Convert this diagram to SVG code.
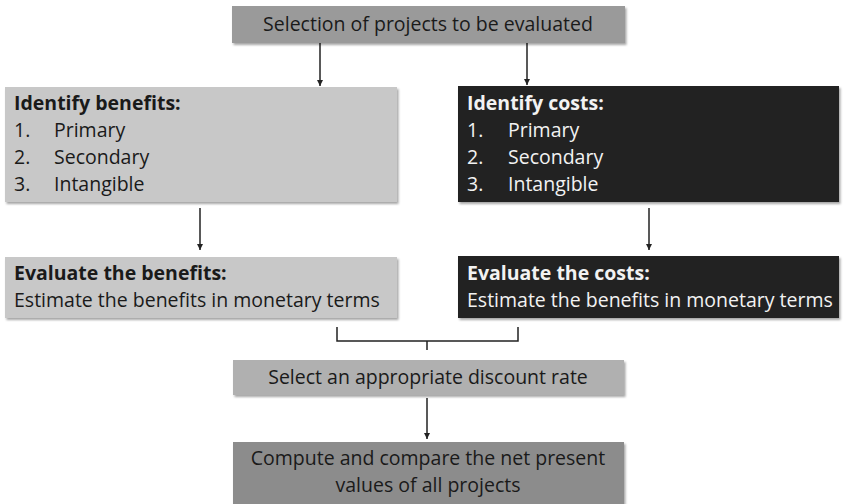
<svg xmlns="http://www.w3.org/2000/svg" width="846" height="504" viewBox="0 0 846 504">
<defs>
<filter id="sh" x="-5%" y="-10%" width="110%" height="130%">
<feDropShadow dx="1.5" dy="2" stdDeviation="1.2" flood-color="#000" flood-opacity="0.35"/>
</filter>
<marker id="arr" markerWidth="7" markerHeight="7" refX="6" refY="3.5" orient="auto" markerUnits="userSpaceOnUse">
<path d="M0,0.5 L6,3.5 L0,6.5 Z" fill="#222"/>
</marker>
</defs>
<style>
text{font-family:"Open Sans","Liberation Sans",Arial,sans-serif;font-size:19.5px;fill:#1a1a1a}
.w{fill:#f2f2f2}
.b{font-weight:bold}
.c{text-anchor:middle}
.ln{stroke:#222;stroke-width:1.5;fill:none}
</style>
<g id="connectors">
<line class="ln" x1="320" y1="43" x2="320" y2="86" marker-end="url(#arr)"/>
<line class="ln" x1="527" y1="43" x2="527" y2="85" marker-end="url(#arr)"/>
<line class="ln" x1="200" y1="208" x2="200" y2="250" marker-end="url(#arr)"/>
<line class="ln" x1="649" y1="208" x2="649" y2="250" marker-end="url(#arr)"/>
<path class="ln" d="M337,327 V341 H518 V327 M427,341 V350"/>
<line class="ln" x1="427" y1="398" x2="427" y2="439" marker-end="url(#arr)"/>
</g>
<g id="n-select">
<rect x="232" y="6" width="393" height="37" fill="#9a9a9a" filter="url(#sh)"/>
<text class="c" x="428" y="31">Selection of projects to be evaluated</text>
</g>
<g id="n-idben">
<rect x="5" y="87" width="392" height="115" fill="#c8c8c8" filter="url(#sh)"/>
<text class="b" x="14" y="110">Identify benefits:</text>
<text x="14" y="137">1.</text><text x="54" y="137">Primary</text>
<text x="14" y="164">2.</text><text x="54" y="164">Secondary</text>
<text x="14" y="191">3.</text><text x="54" y="191">Intangible</text>
</g>
<g id="n-idcost">
<rect x="458" y="86" width="381" height="116" fill="#232323" filter="url(#sh)"/>
<text class="b w" x="467" y="110">Identify costs:</text>
<text class="w" x="467" y="137">1.</text><text class="w" x="508" y="137">Primary</text>
<text class="w" x="467" y="164">2.</text><text class="w" x="508" y="164">Secondary</text>
<text class="w" x="467" y="191">3.</text><text class="w" x="508" y="191">Intangible</text>
</g>
<g id="n-evben">
<rect x="5" y="257" width="392" height="61" fill="#c8c8c8" filter="url(#sh)"/>
<text class="b" x="14" y="280">Evaluate the benefits:</text>
<text x="14" y="307">Estimate the benefits in monetary terms</text>
</g>
<g id="n-evcost">
<rect x="458" y="256" width="381" height="62" fill="#232323" filter="url(#sh)"/>
<text class="b w" x="467" y="280">Evaluate the costs:</text>
<text class="w" x="467" y="307">Estimate the benefits in monetary terms</text>
</g>
<g id="n-rate">
<rect x="233" y="360" width="391" height="35" fill="#b0b0b0" filter="url(#sh)"/>
<text class="c" x="428" y="384">Select an appropriate discount rate</text>
</g>
<g id="n-npv">
<rect x="233" y="442" width="391" height="64" fill="#8c8c8c" filter="url(#sh)"/>
<text class="c" x="428" y="465">Compute and compare the net present</text>
<text class="c" x="428" y="492">values of all projects</text>
</g>
</svg>
